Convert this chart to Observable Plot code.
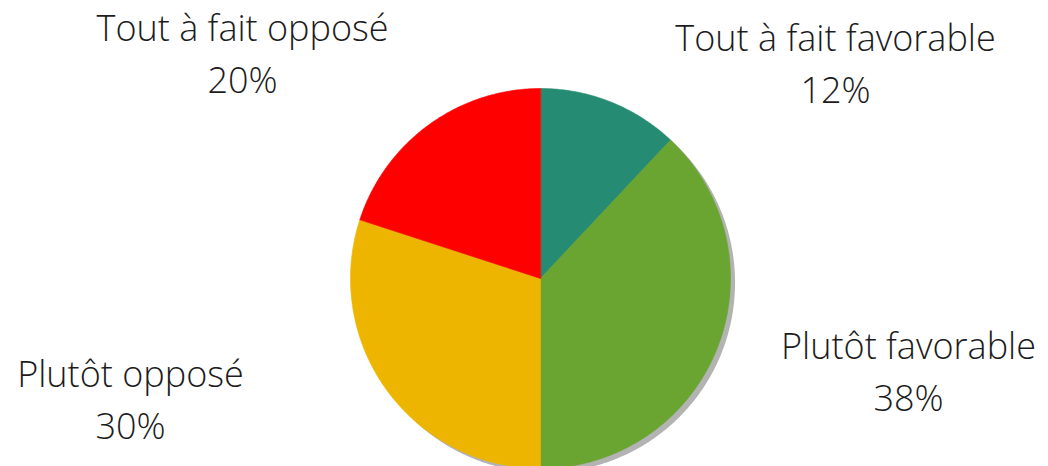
<!DOCTYPE html>
<html><head><meta charset="utf-8">
<script src="https://cdn.jsdelivr.net/npm/d3@7"></script>
<script src="https://cdn.jsdelivr.net/npm/@observablehq/plot@0.6"></script>
<style>body{margin:0;background:#fff}</style>
</head><body><div id="chart"></div>
<script>
// ---- data ----
const categories = ["Tout à fait favorable", "Plutôt favorable", "Plutôt opposé", "Tout à fait opposé"];
const shares = [12, 38, 30, 20];
const colors = ["#268B73", "#6AA532", "#EDB500", "#FF0000"];
// label anchors, in units of the pie radius (x right, y up) from the pie centre
const labelX = [1.553, 1.937, -2.158, -1.568];
const labelY = [1.150, -0.474, -0.621, 1.200];

// ---- build slices with d3.pie ----
const arcs = d3.pie().sort(null).value(d => d)(shares);
function ring(a0, a1, dx = 0, dy = 0) {
  const pts = [[dx, dy]];
  const n = Math.max(8, Math.ceil((a1 - a0) / 0.01));
  for (let i = 0; i <= n; i++) {
    const a = a0 + (a1 - a0) * i / n;
    pts.push([dx + Math.sin(a), dy + Math.cos(a)]);
  }
  pts.push([dx, dy]);
  return pts;
}
const slices = {
  type: "FeatureCollection",
  features: arcs.map((a, i) => ({
    type: "Feature",
    properties: {name: categories[i], color: colors[i]},
    geometry: {type: "Polygon", coordinates: [ring(a.startAngle, a.endAngle)]}
  }))
};
const shadowCircle = {
  type: "Feature", properties: {},
  geometry: {type: "Polygon", coordinates: [ring(0, 2 * Math.PI, 0.024, -0.022)]}
};
const labels = categories.map((c, i) => ({x: labelX[i], y: labelY[i], text: `${c}\n${shares[i]}%`}));

const plot = Plot.plot({
  width: 1048,
  height: 466,
  margin: 0,
  projection: () => d3.geoIdentity().reflectY(true).scale(190).translate([540, 278]),
  marks: [
    Plot.geo(shadowCircle, {fill: "#9a9a9a", fillOpacity: 0.75, ariaLabel: "shadow"}),
    Plot.geo(slices, {fill: d => d.properties.color, stroke: d => d.properties.color, strokeWidth: 0.6}),
    Plot.text(labels, {
      x: "x", y: "y", text: "text",
      fontSize: 36, lineHeight: 1.444,
      fontFamily: "'Open Sans', Lato, sans-serif", fontWeight: 300,
      fill: "#1c1c1c", textAnchor: "middle", ariaLabel: "labels"
    })
  ]
});
document.getElementById("chart").append(plot);

const svg = d3.select(plot);
// soft drop shadow
svg.insert("defs", ":first-child").append("filter")
  .attr("id", "pieShadow").attr("x", "-20%").attr("y", "-20%").attr("width", "140%").attr("height", "140%")
  .append("feGaussianBlur").attr("stdDeviation", 3.5);
svg.selectAll("g[aria-label=shadow]").attr("filter", "url(#pieShadow)");
// slightly wider tracking, like the original typeface
svg.selectAll("g[aria-label=labels] text").style("letter-spacing", "0.8px");
</script>
</body></html>
